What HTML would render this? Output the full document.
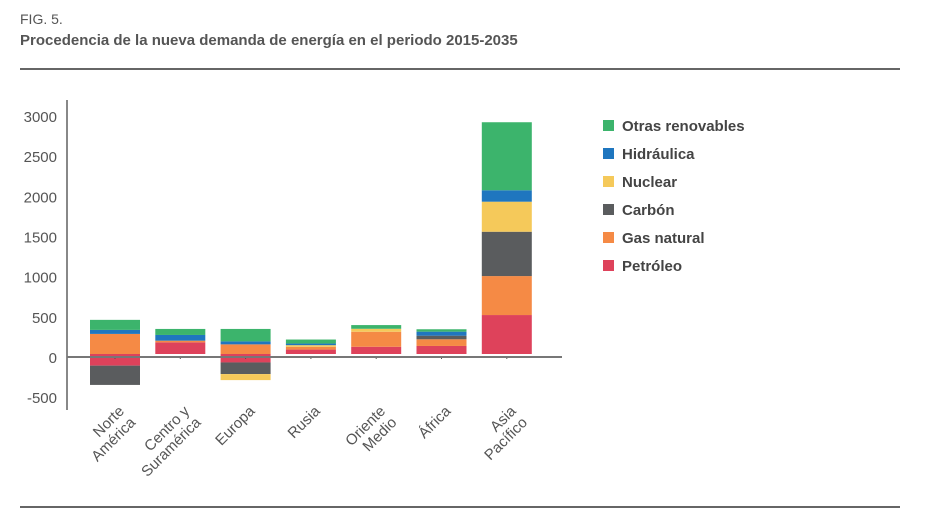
<!DOCTYPE html>
<html><head><meta charset="utf-8"><style>
body{margin:0;background:#fff;width:930px;height:529px;overflow:hidden;font-family:"Liberation Sans",sans-serif}
svg{display:block}
</style></head><body>
<svg width="930" height="529" id="c">
<text x="20" y="24" font-size="14" fill="#555">FIG. 5.</text>
<text x="20" y="45" font-size="15" font-weight="bold" fill="#555">Procedencia de la nueva demanda de energía en el periodo 2015-2035</text>
<line x1="20" y1="69" x2="900" y2="69" stroke="#666" stroke-width="2"/>
<line x1="20" y1="507" x2="900" y2="507" stroke="#666" stroke-width="2"/>
<line x1="67" y1="100" x2="67" y2="410" stroke="#888" stroke-width="2"/>
<g id="marks"></g>
</svg>
<script>
const categories=[["Norte","América"],["Centro y","Suramérica"],["Europa"],["Rusia"],["Oriente","Medio"],["África"],["Asia","Pacífico"]];
const seriesNames=["Petróleo","Gas natural","Carbón","Nuclear","Hidráulica","Otras renovables"];
const seriesColors=["#de425b","#f58a45","#5a5c5e","#f5c95a","#1f76bf","#3cb46c"];
const petroleo=[-145,145,-105,55,90,100,485];
const gasNatural=[250,21,120,35,187,83,485];
const carbon=[-240,0,-145,0,0,45,552];
const nuclear=[0,0,-75,20,37,0,374];
const hidraulica=[50,71,37,20,0,50,142];
const otras=[125,75,155,50,46,30,847];
const yTicks=[-500,0,500,1000,1500,2000,2500,3000];
const series=[petroleo,gasNatural,carbon,nuclear,hidraulica,otras];

const NS="http://www.w3.org/2000/svg";
const svg=document.getElementById('c');
const g=document.getElementById('marks');
const zeroY=354, pxPer=241/3000;
function y(v){return zeroY-v*pxPer;}
function xc(i){return 115+i*65.3;}
function mk(t,a){const e=document.createElementNS(NS,t);for(const k in a)e.setAttribute(k,a[k]);return e;}

yTicks.forEach(t=>{
  const tx=mk('text',{x:57,y:y(t)+3+6,'text-anchor':'end','font-size':15,fill:'#555'});
  
  
  tx.textContent=t;g.appendChild(tx);
});

categories.forEach((cat,i)=>{
  let pos=0,neg=0;
  series.forEach((s,si)=>{
    const v=s[i];if(!v)return;
    let top,bot;
    if(v>0){bot=pos;pos+=v;top=pos;}else{top=neg;neg+=v;bot=neg;}
    const r=mk('rect',{x:xc(i)-25,y:y(top),width:50,height:y(bot)-y(top),fill:seriesColors[si]});
    
    
    g.appendChild(r);
  });
  const tk=mk('line',{x1:xc(i),y1:zeroY+2,x2:xc(i),y2:zeroY+5,stroke:'#555','stroke-width':1});
  
  
  g.appendChild(tk);
  const ax=xc(i)+10, ay=412;
  const tx=mk('text',{transform:`translate(${ax},${ay}) rotate(-45)`,'text-anchor':'end','font-size':15,fill:'#555'});
  
  
  cat.forEach((l,li)=>{const ts=mk('tspan',{x:0,y:li*16});ts.textContent=l;tx.appendChild(ts);});
  g.appendChild(tx);
});
const xa=mk('line',{x1:67,y1:zeroY+3,x2:562,y2:zeroY+3,stroke:'#777','stroke-width':2});


g.appendChild(xa);

for(let k=0;k<6;k++){
  const si=5-k, ly=126+k*28;
  const sq=mk('rect',{x:603,y:ly-6,width:11,height:11,fill:seriesColors[si]});
  
  
  g.appendChild(sq);
  const t=mk('text',{x:622,y:ly+5,'font-size':15,'font-weight':'bold',fill:'#444'});
  
  
  t.textContent=seriesNames[si];g.appendChild(t);
}
</script>
</body></html>
